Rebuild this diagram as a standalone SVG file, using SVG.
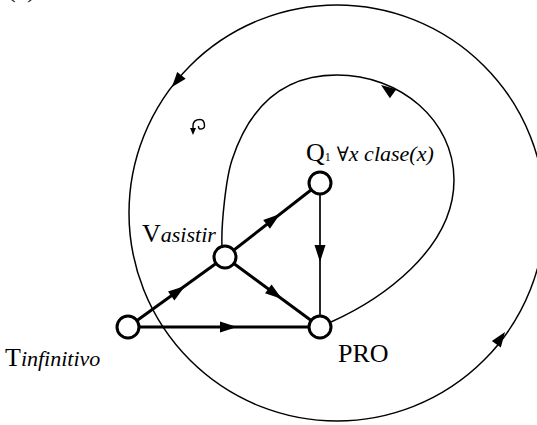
<svg xmlns="http://www.w3.org/2000/svg" width="537" height="425" viewBox="0 0 537 425">
<style>
.thin{fill:none;stroke:#000;stroke-width:1.5}
.edge{fill:none;stroke:#000;stroke-width:3}
.edge2{fill:none;stroke:#000;stroke-width:1.7}
.node{fill:#fff;stroke:#000;stroke-width:3}
.up{font-family:"Liberation Serif","DejaVu Serif",serif;font-size:26px;fill:#000}
.it{font-family:"Liberation Serif","DejaVu Serif",serif;font-size:22px;font-style:italic;fill:#000}
</style>
<defs>
<path id="ah" d="M0,0 L-17,-5.5 L-17,5.5 Z" fill="#000"/>
<path id="ah2" d="M0,0 L-15,-5.5 L-15,5.5 Z" fill="#000"/>
</defs>
<rect width="537" height="425" fill="#fff"/>
<text class="up" x="7" y="-3">(a)</text>
<g id="connectors">
<circle class="thin" cx="337" cy="213" r="208"/>
<use href="#ah2" transform="translate(172,87) rotate(129)"/>
<use href="#ah2" transform="translate(505,332) rotate(-54.7)"/>
<path class="thin" d="M331,322 C380,300 454,250 454,180 C454,120 400,75 337,75 C285,75 250,105 232,160 C226,178 221,225 222,246"/>
<use href="#ah2" transform="translate(381,85) rotate(216)"/>
<line class="edge" x1="128" y1="327" x2="225" y2="257"/>
<use href="#ah" transform="translate(185,286) rotate(-35.8)"/>
<line class="edge" x1="225" y1="257" x2="320" y2="183"/>
<use href="#ah" transform="translate(280,214) rotate(-37.9)"/>
<line class="edge" x1="225" y1="257" x2="320" y2="327"/>
<use href="#ah" transform="translate(282,299) rotate(36.4)"/>
<line class="edge2" x1="320" y1="183" x2="320" y2="327"/>
<use href="#ah" transform="translate(320,262) rotate(90)"/>
<line class="edge" x1="128" y1="327" x2="320" y2="327"/>
<use href="#ah" transform="translate(237,327) rotate(0)"/>
</g>
<g id="spiral">
<path fill="none" stroke="#000" stroke-width="1.4" d="M198.5,126 Q198.5,129 200,129 Q204.5,129 204.5,126 Q204.5,119.5 200,119.5 Q193,119.5 193,126 L193,129"/>
<path d="M193,135 L190,128 L196,128 Z" fill="#000"/>
</g>
<g id="T">
<circle class="node" cx="128" cy="327" r="11"/>
<text x="5" y="366"><tspan class="up">T</tspan><tspan class="it">infinitivo</tspan></text>
</g>
<g id="V">
<circle class="node" cx="225" cy="257" r="11"/>
<text x="142" y="242"><tspan class="up">V</tspan><tspan class="it">asistir</tspan></text>
</g>
<g id="Q">
<circle class="node" cx="320" cy="183" r="11"/>
<text x="306" y="161"><tspan class="up">Q</tspan><tspan class="up" style="font-size:12px">1</tspan><tspan class="up" style="font-size:20px" dx="6">∀</tspan><tspan class="it">x clase(x)</tspan></text>
</g>
<g id="PRO">
<circle class="node" cx="320" cy="327" r="11"/>
<text class="up" x="338" y="362">PRO</text>
</g>
</svg>
